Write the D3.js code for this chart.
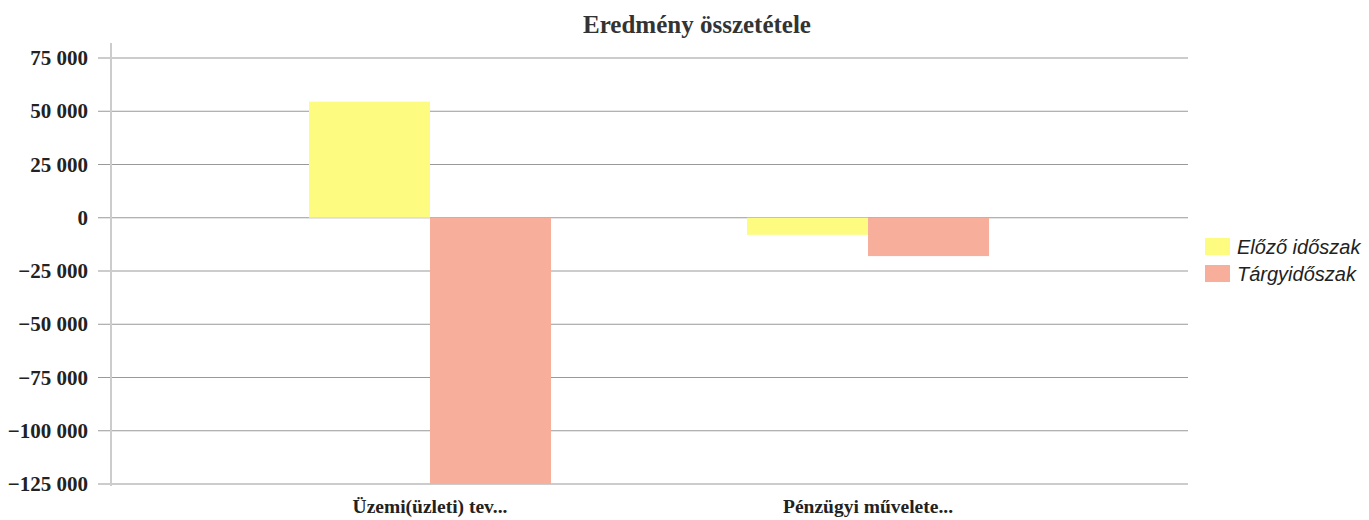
<!DOCTYPE html>
<html>
<head>
<meta charset="utf-8">
<script src="https://cdn.jsdelivr.net/npm/d3@7"></script>
<style>
  body { margin: 0; background: #fff; }
  svg { display: block; }
</style>
</head>
<body>
<svg id="chart" width="1369" height="520"></svg>
<script>
// data
const categories = ['Üzemi(üzleti) tev...', 'Pénzügyi művelete...'];
const seriesNames = ['Előző időszak', 'Tárgyidőszak'];
const previous = [54500, -8000];
const current = [-125000, -18000];
const tickValues = [75000, 50000, 25000, 0, -25000, -50000, -75000, -100000, -125000];
const colors = ['#fdfc80', '#f7ae9a'];

const svg = d3.select('#chart');
const plotLeft = 111, plotRight = 1188, plotTop = 58, plotBottom = 484;

const y = d3.scaleLinear().domain([-125000, 75000]).range([plotBottom, plotTop]);
const x0 = d3.scaleBand().domain(categories).range([211, 1087])
    .paddingInner(0.4475).paddingOuter(0.2237);
const x1 = d3.scaleBand().domain(seriesNames).range([0, x0.bandwidth()]);

const fmt = d3.formatLocale({ decimal: ',', thousands: ' ', grouping: [3], currency: ['', ''] }).format(',d');

// title
svg.append('text')
    .attr('x', 697).attr('y', 33)
    .attr('text-anchor', 'middle')
    .style('font-family', '"Liberation Serif", serif')
    .style('font-weight', 'bold').style('font-size', '25px')
    .attr('fill', '#333')
    .text('Eredmény összetétele');

// gridlines
svg.append('g')
    .selectAll('line')
    .data(tickValues)
    .enter()
    .append('line')
    .attr('x1', plotLeft - 13).attr('x2', plotRight)
    .attr('y1', d => y(d)).attr('y2', d => y(d))
    .attr('stroke', '#999').attr('stroke-width', 1);

// y axis
const yAxis = svg.append('g')
    .attr('transform', `translate(${plotLeft},0)`)
    .call(d3.axisLeft(y).tickValues(tickValues).tickFormat(fmt).tickSize(0).tickPadding(23));
yAxis.select('.domain').remove();
yAxis.selectAll('text')
    .style('font-family', '"Liberation Serif", serif')
    .style('font-weight', 'bold').style('font-size', '21px')
    .attr('fill', '#222');

svg.append('line')
    .attr('x1', plotLeft).attr('x2', plotLeft)
    .attr('y1', 43).attr('y2', plotBottom + 2)
    .attr('stroke', '#ccc').attr('stroke-width', 2);

// bars
const rows = categories.map((c, i) => ({ cat: c, values: [previous[i], current[i]] }));

const groups = svg.append('g')
    .selectAll('g')
    .data(rows)
    .enter()
    .append('g')
    .attr('transform', d => `translate(${x0(d.cat)},0)`);

groups.selectAll('rect')
    .data(d => d.values.map((v, j) => ({ key: seriesNames[j], v: v, j: j })))
    .enter()
    .append('rect')
    .attr('x', d => x1(d.key))
    .attr('width', x1.bandwidth())
    .attr('y', d => y(Math.max(0, d.v)))
    .attr('height', d => Math.abs(y(d.v) - y(0)))
    .attr('fill', d => colors[d.j]);

// category labels
svg.append('g')
    .selectAll('text')
    .data(categories)
    .enter()
    .append('text')
    .attr('x', d => x0(d) + x0.bandwidth() / 2)
    .attr('y', 513)
    .attr('text-anchor', 'middle')
    .style('font-family', '"Liberation Serif", serif')
    .style('font-weight', 'bold').style('font-size', '19.5px')
    .attr('fill', '#222')
    .text(d => d);

// legend
const legend = svg.append('g')
    .selectAll('g')
    .data(seriesNames)
    .enter()
    .append('g')
    .attr('transform', (d, i) => `translate(1205,${238 + i * 27})`);

legend.append('rect')
    .attr('width', 25).attr('height', 17)
    .attr('fill', (d, i) => colors[i]);

legend.append('text')
    .attr('x', 32).attr('y', 16)
    .style('font-family', '"Liberation Sans", Arial, sans-serif')
    .style('font-style', 'italic').style('font-size', '20px')
    .attr('fill', '#222')
    .text(d => d);
</script>
</body>
</html>
